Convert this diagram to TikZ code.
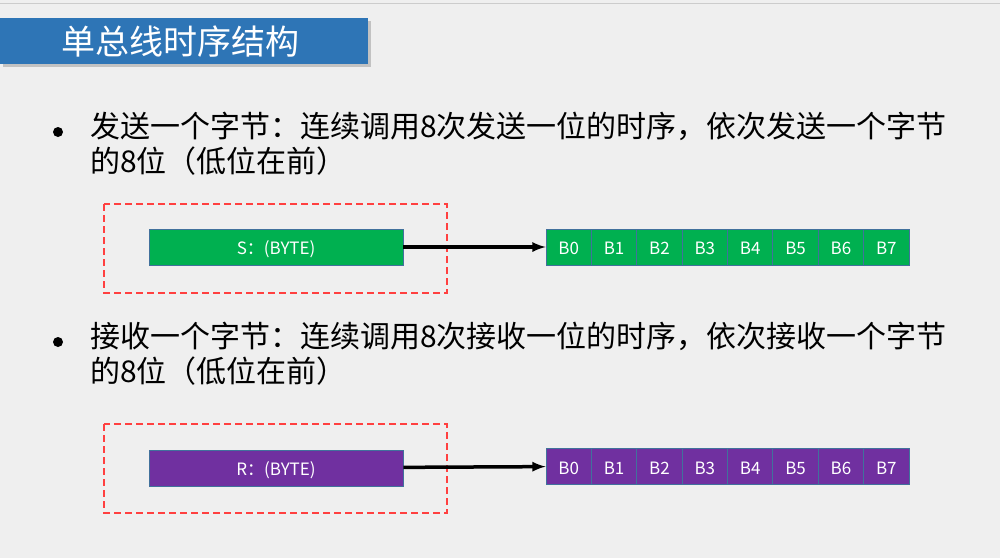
\documentclass[tikz,border=0pt]{standalone}
\usepackage{fontspec}
\setmainfont{Noto Sans CJK SC}
\usetikzlibrary{shadows}
\definecolor{bgray}{HTML}{EFEFEF}
\definecolor{titleblue}{HTML}{2E75B6}
\definecolor{cellgreen}{HTML}{00B050}
\definecolor{cellpurple}{HTML}{7030A0}
\definecolor{cellline}{HTML}{41719C}
\begin{document}
\begin{tikzpicture}[x=1pt, y=-1pt,
    bytebox/.style={draw=cellline, line width=0.8pt, minimum width=254pt, minimum height=36pt, inner sep=0pt, text height=15pt, text depth=0pt, text=white, font=\fontsize{17}{18}\selectfont},
    bitcell/.style={draw=cellline, line width=0.8pt, minimum width=45.375pt, minimum height=36pt, inner sep=0pt, text height=15pt, text depth=0pt, text=white, font=\fontsize{17}{18}\selectfont},
    fence/.style={draw=red!75, dash pattern=on 7pt off 4pt, line width=1.3pt},
    dot/.style={circle, fill=black, inner sep=0pt, minimum size=10pt},
    bullettext/.style={anchor=north west, inner sep=0pt, align=left, font=\fontsize{30}{35}\selectfont}]
    % page
    \useasboundingbox[fill=bgray] (0,0) rectangle (1000,558);
    \draw[gray!40, line width=1pt] (0,3) -- (1000,3);
    % title
    \node[fill=titleblue, drop shadow={opacity=0.4, shadow xshift=3pt, shadow yshift=-3pt}, minimum width=368pt, minimum height=46pt, inner sep=0pt] (title) at (184,41) {};
    \node[text=white, font=\fontsize{34}{38}\selectfont] (titletext) at (180,42) {单总线时序结构};
    % send
    \node[dot] (dot1) at (58,132) {};
    \node[bullettext] (send) at (90,112) {发送一个字节：连续调用8次发送一位的时序，依次发送一个字节\\的8位（低位在前）};
    \draw[fence] (104,204) rectangle (447,293);
    \node[bytebox, fill=cellgreen] (sbyte) at (276,247) {S：(BYTE)};
    \foreach \i in {0,...,7}
        \node[bitcell, fill=cellgreen] (s\i) at (568.69+45.375*\i,247) {B\i};
    \draw[-latex, line width=3.5pt] (sbyte) -- (s0);
    % receive
    \node[dot] (dot2) at (58,342) {};
    \node[bullettext] (recv) at (90,322) {接收一个字节：连续调用8次接收一位的时序，依次接收一个字节\\的8位（低位在前）};
    \draw[fence] (104,424) rectangle (447,513);
    \node[bytebox, fill=cellpurple] (rbyte) at (276,468) {R：(BYTE)};
    \foreach \i in {0,...,7}
        \node[bitcell, fill=cellpurple] (r\i) at (568.69+45.375*\i,466.5) {B\i};
    \draw[-latex, line width=3.5pt] (rbyte) -- (r0);
\end{tikzpicture}
\end{document}
